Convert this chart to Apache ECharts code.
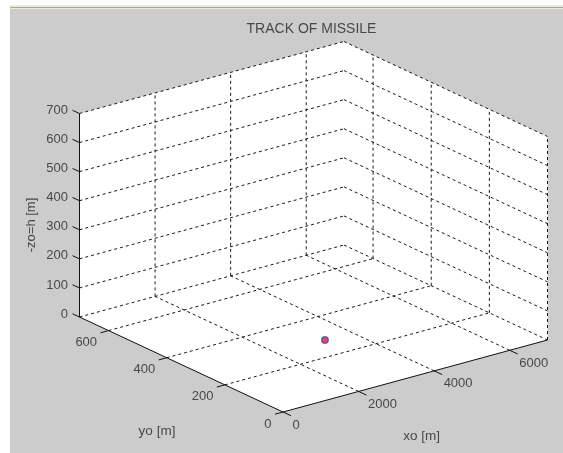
<!DOCTYPE html>
<html><head><meta charset="utf-8">
<style>html,body{margin:0;padding:0;background:#fff}#c{width:563px;height:453px}</style>
<script src="https://cdn.jsdelivr.net/npm/echarts@6/dist/echarts.min.js"></script>
</head><body><div id="c"></div>
<script>
// ---- data ----
const titleText = 'TRACK OF MISSILE';
const xTicks = [0, 2000, 4000, 6000];
const yTicks = [0, 200, 400, 600];
const zTicks = [0, 100, 200, 300, 400, 500, 600, 700];
const xMax = 7000, yMax = 700, zMax = 700;
const trackX = [3280];
const trackY = [282];
const trackZ = [0];
const xName = 'xo [m]', yName = 'yo [m]', zName = '-zo=h [m]';

// ---- orthographic view of the box (pixel frame of the hidden 2D axes) ----
const origin = [283, 412];
const xVec = [264.5, -72], yVec = [-203.5, -95], zVec = [0, -203.5];
function project(x, y, z) {
  const a = x / xMax, b = y / yMax, c = z / zMax;
  return [origin[0] + a * xVec[0] + b * yVec[0] + c * zVec[0],
          origin[1] + a * xVec[1] + b * yVec[1] + c * zVec[1]];
}
const add = (p, dx, dy) => [p[0] + dx, p[1] + dy];

const GRID = '#1a1a1a', AXIS = '#111', TXT = '#262626', FONT = '"Liberation Sans", Arial, sans-serif';
const seg = (a, b, solid) => ({
  type: 'line', coordinateSystem: 'cartesian2d', data: [a, b], symbol: 'none', silent: true,
  lineStyle: { color: solid ? AXIS : GRID, width: 1, type: solid ? 'solid' : [3, 3] }, z: solid ? 4 : 3, animation: false
});
const texts = (items, align, size) => ({
  type: 'scatter', symbolSize: 0, silent: true, animation: false, z: 6,
  data: items.map(t => ({ value: t.p, label: { formatter: t.s } })),
  label: { show: true, position: 'inside', align, verticalAlign: 'middle', color: TXT, fontFamily: FONT, fontSize: size || 13 }
});

const series = [];
// white box faces
series.push({
  type: 'custom', silent: true, animation: false, z: 1, coordinateSystem: 'cartesian2d',
  data: [0],
  renderItem: (p, api) => ({
    type: 'polygon', style: { fill: '#fff' },
    shape: { points: [project(0, 0, 0), project(xMax, 0, 0), project(xMax, 0, zMax), project(xMax, yMax, zMax), project(0, yMax, zMax), project(0, yMax, 0)].map(q => api.coord(q)) }
  })
});
// wall y = yMax: verticals at x ticks, horizontals at z ticks; wall x = xMax likewise
xTicks.forEach(x => { if (x > 0) series.push(seg(project(x, yMax, 0), project(x, yMax, zMax))); });
yTicks.forEach(y => series.push(seg(project(xMax, y, 0), project(xMax, y, zMax))));
zTicks.forEach(z => {
  series.push(seg(project(0, yMax, z), project(xMax, yMax, z)));
  series.push(seg(project(xMax, yMax, z), project(xMax, 0, z)));
});
// floor
xTicks.forEach(x => { if (x > 0) series.push(seg(project(x, 0, 0), project(x, yMax, 0))); });
yTicks.forEach(y => { if (y > 0) series.push(seg(project(0, y, 0), project(xMax, y, 0))); });
// solid axes
series.push(seg(project(0, 0, 0), project(xMax, 0, 0), true));
series.push(seg(project(0, 0, 0), project(0, yMax, 0), true));
series.push(seg(project(0, yMax, 0), project(0, yMax, zMax), true));
// tick marks
xTicks.forEach(x => { const q = project(x, 0, 0); series.push(seg(q, add(q, 8, 3.7), true)); });
yTicks.forEach(y => { const q = project(0, y, 0); series.push(seg(q, add(q, -8, 2.2), true)); });
zTicks.forEach(z => { const q = project(0, yMax, z); series.push(seg(q, add(q, -7, -3.2), true)); });
// tick labels
series.push(texts(xTicks.map(x => ({ p: add(project(x, 0, 0), 9.5, 13), s: String(x) })), 'left'));
series.push(texts(yTicks.map(y => ({ p: add(project(0, y, 0), -11.5, 12), s: String(y) })), 'right'));
series.push(texts(zTicks.map(z => ({ p: add(project(0, yMax, z), -11.5, -3), s: String(z) })), 'right'));
// axis names
series.push(texts([{ p: [421.7, 436], s: xName }, { p: [157, 431.5], s: yName }], 'center', 13.5));
series.push(texts([{ p: [311.5, 29], s: titleText }], 'center', 14));
series.push({
  type: 'scatter', symbolSize: 0, silent: true, animation: false, z: 6, data: [[31.5, 225]],
  label: { show: true, position: 'inside', align: 'center', verticalAlign: 'middle', rotate: 90, formatter: zName, color: TXT, fontFamily: FONT, fontSize: 13 }
});
// track of missile
series.push({
  type: 'scatter', animation: false, z: 8, symbol: 'circle', symbolSize: 6.5,
  data: trackX.map((x, i) => project(x, trackY[i], trackZ[i])),
  itemStyle: { color: '#f5101c', borderColor: '#3f4fc8', borderWidth: 1.5 }
});

const chart = echarts.init(document.getElementById('c'), null, { renderer: 'canvas' });
chart.setOption({
  animation: false,
  backgroundColor: '#fff',
  graphic: [
    { type: 'rect', z: -10, silent: true, shape: { x: 10, y: 9, width: 553, height: 444 }, style: { fill: '#cccccc' } },
    { type: 'rect', z: -10, silent: true, shape: { x: 10, y: 5, width: 553, height: 2 }, style: { fill: '#ece9d8' } },
    { type: 'rect', z: -10, silent: true, shape: { x: 10, y: 7, width: 553, height: 1 }, style: { fill: '#aca899' } },
    { type: 'rect', z: -10, silent: true, shape: { x: 10, y: 8, width: 553, height: 1 }, style: { fill: '#ece9d8' } }
  ],
  grid: { left: 0, right: 0, top: 0, bottom: 0 },
  xAxis: { type: 'value', min: 0, max: 563, show: false },
  yAxis: { type: 'value', min: 0, max: 453, inverse: true, show: false },
  series
});
</script></body></html>
